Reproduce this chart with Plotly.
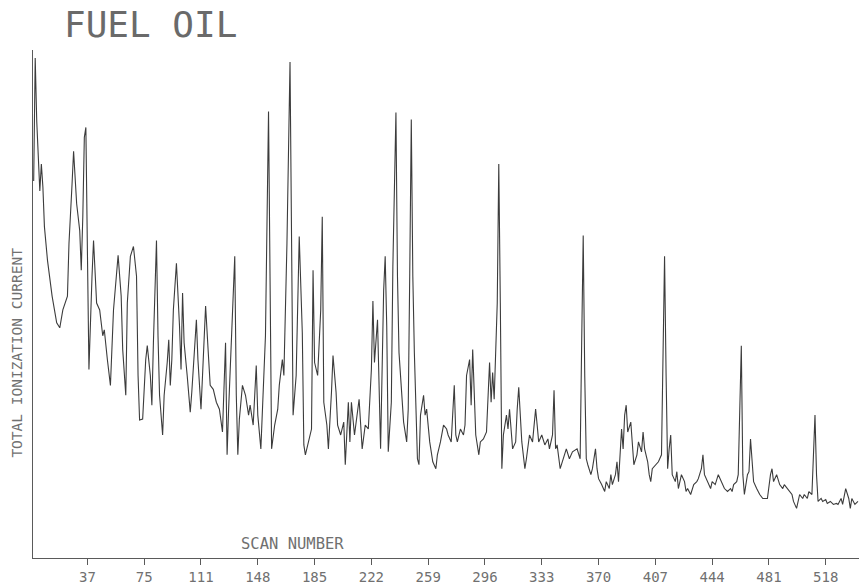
import plotly.graph_objects as go

# Text drawn on the chart
TITLE = "FUEL OIL"
X_LABEL = "SCAN NUMBER"
Y_LABEL = "TOTAL IONIZATION CURRENT"

# Scan-number axis ticks
TICK_SCANS = [37, 74, 111, 148, 185, 222, 259, 296, 333, 370, 407, 444, 481, 518]
TICK_LABELS = ["37", "75", "111", "148", "185", "222", "259", "296",
               "333", "370", "407", "444", "481", "518"]

# Total ion chromatogram: scan number and relative ion current
SCAN = [
    2, 3, 4, 5, 6, 7, 8, 9, 11, 14,
    17, 19, 21, 24, 25, 27, 28, 30, 32, 33,
    34, 35, 36, 37, 38, 40, 41, 43, 45, 47,
    48, 50, 52, 54, 56, 57, 59, 60, 62, 63,
    65, 67, 69, 70, 71, 73, 75, 76, 78, 79,
    80, 82, 83, 84, 86, 87, 89, 90, 91, 92,
    93, 95, 97, 98, 99, 100, 102, 104, 105, 106,
    108, 109, 111, 112, 114, 116, 117, 119, 121, 123,
    125, 127, 128, 129, 131, 133, 134, 135, 136, 138,
    140, 142, 143, 145, 147, 148, 150, 151, 153, 155,
    156, 157, 159, 161, 162, 164, 165, 167, 169, 170,
    171, 173, 174, 175, 177, 178, 179, 181, 183, 184,
    185, 187, 189, 190, 191, 193, 194, 196, 197, 199,
    200, 202, 204, 205, 207, 208, 209, 211, 213, 214,
    216, 218, 220, 222, 223, 224, 226, 227, 228, 230,
    231, 232, 233, 235, 236, 238, 239, 240, 242, 243,
    245, 246, 247, 248, 249, 250, 252, 253, 254, 256,
    257, 258, 260, 262, 264, 265, 267, 269, 271, 272,
    274, 275, 276, 277, 278, 280, 282, 283, 284, 286,
    287, 288, 289, 290, 292, 293, 295, 297, 299, 300,
    301, 302, 304, 305, 306, 307, 308, 310, 311, 312,
    314, 316, 317, 318, 320, 322, 323, 325, 327, 329,
    330, 331, 333, 335, 337, 338, 340, 341, 342, 343,
    345, 347, 349, 351, 353, 356, 357, 358, 359, 360,
    361, 362, 363, 365, 366, 368, 369, 370, 372, 374,
    375, 377, 378, 379, 381, 382, 383, 384, 385, 386,
    387, 388, 389, 391, 392, 393, 395, 396, 398, 399,
    400, 402, 403, 404, 405, 407, 409, 411, 412, 413,
    414, 415, 416, 417, 418, 420, 421, 422, 424, 426,
    427, 428, 430, 432, 434, 435, 437, 438, 439, 441,
    443, 444, 446, 448, 449, 451, 452, 454, 456, 457,
    458, 460, 461, 462, 463, 464, 465, 467, 468, 469,
    470, 471, 473, 475, 477, 480, 482, 483, 484, 486,
    488, 490, 491, 493, 494, 496, 497, 499, 501, 503,
    504, 506, 507, 509, 510, 511, 512, 513, 515, 516,
    518, 519, 521, 523, 525, 526, 528, 529, 531, 533,
    534, 535, 537, 539,
]
TIC = [
    380, 504, 440, 400, 370, 397, 374, 334, 300, 264,
    237, 232, 250, 264, 317, 377, 410, 357, 330, 290,
    344, 424, 434, 310, 190, 284, 320, 257, 250, 224,
    230, 200, 174, 250, 284, 305, 264, 210, 164, 257,
    304, 314, 284, 184, 139, 140, 200, 214, 184, 154,
    217, 320, 224, 164, 124, 164, 197, 220, 174, 200,
    250, 297, 234, 190, 267, 217, 184, 147, 167, 190,
    240, 200, 150, 184, 254, 200, 174, 170, 157, 150,
    127, 217, 104, 150, 227, 304, 164, 104, 140, 174,
    164, 144, 154, 134, 194, 144, 110, 154, 224, 450,
    234, 110, 134, 150, 174, 200, 184, 317, 500, 327,
    144, 184, 244, 324, 227, 114, 104, 117, 130, 290,
    197, 184, 250, 344, 157, 134, 110, 167, 204, 167,
    134, 124, 137, 94, 157, 117, 157, 124, 150, 160,
    110, 134, 130, 190, 259, 197, 240, 184, 110, 270,
    304, 234, 107, 157, 294, 449, 284, 207, 154, 137,
    117, 150, 287, 442, 284, 207, 100, 94, 144, 164,
    144, 150, 117, 97, 90, 104, 117, 134, 130, 124,
    117, 144, 174, 124, 117, 130, 124, 134, 184, 200,
    154, 210, 157, 124, 104, 117, 120, 127, 197, 157,
    187, 160, 257, 397, 257, 90, 124, 144, 130, 150,
    110, 117, 150, 172, 117, 90, 100, 124, 117, 150,
    134, 117, 124, 114, 120, 110, 124, 169, 110, 114,
    90, 100, 110, 100, 107, 110, 104, 100, 217, 325,
    184, 100, 94, 84, 90, 110, 90, 80, 74, 67,
    77, 70, 84, 74, 84, 97, 77, 100, 130, 110,
    144, 154, 127, 137, 110, 94, 104, 117, 107, 127,
    110, 97, 84, 77, 90, 94, 97, 104, 200, 304,
    184, 90, 110, 124, 84, 77, 87, 70, 84, 77,
    67, 70, 64, 74, 77, 80, 90, 104, 84, 77,
    70, 77, 74, 84, 80, 74, 70, 67, 70, 67,
    74, 77, 84, 150, 214, 84, 64, 84, 87, 120,
    97, 77, 70, 64, 60, 60, 84, 90, 77, 84,
    74, 70, 74, 70, 67, 64, 57, 50, 64, 60,
    64, 60, 67, 64, 104, 144, 84, 57, 60, 57,
    59, 55, 57, 54, 55, 54, 60, 54, 70, 60,
    50, 60, 54, 57,
]

W, H = 859, 585
M_LEFT, M_RIGHT, M_TOP, M_BOTTOM = 33, 0, 50, 23
PLOT_W = W - M_LEFT - M_RIGHT
PLOT_H = H - M_TOP - M_BOTTOM

MONO = "DejaVu Sans Mono, Liberation Mono, monospace"
INK = "#3c3c3c"
AXIS_INK = "#5a5a5a"
TEXT_INK = "#707070"

fig = go.Figure(
    go.Scatter(
        x=SCAN,
        y=TIC,
        mode="lines",
        line=dict(color=INK, width=1.1),
        hoverinfo="skip",
        showlegend=False,
    )
)

fig.update_layout(
    width=W,
    height=H,
    margin=dict(l=M_LEFT, r=M_RIGHT, t=M_TOP, b=M_BOTTOM, pad=0),
    paper_bgcolor="white",
    plot_bgcolor="white",
    xaxis=dict(
        range=[1.56, 539.67],
        showgrid=False,
        zeroline=False,
        showline=True,
        linecolor=AXIS_INK,
        linewidth=1.2,
        ticks="outside",
        ticklen=6,
        tickwidth=1,
        tickcolor=AXIS_INK,
        tickvals=TICK_SCANS,
        ticktext=TICK_LABELS,
        tickfont=dict(family=MONO, size=14, color=TEXT_INK),
        fixedrange=True,
    ),
    yaxis=dict(
        range=[0, PLOT_H],
        showgrid=False,
        zeroline=False,
        showline=True,
        linecolor=AXIS_INK,
        linewidth=1.2,
        ticks="",
        showticklabels=False,
        fixedrange=True,
    ),
    annotations=[
        dict(
            text=TITLE,
            xref="paper", yref="paper",
            x=(62 - M_LEFT) / PLOT_W, y=(H - M_BOTTOM - 24) / PLOT_H,
            xanchor="left", yanchor="middle",
            showarrow=False,
            font=dict(family=MONO, size=36, color="#6a6a6a"),
        ),
        dict(
            text=Y_LABEL,
            xref="paper", yref="paper",
            x=(17 - M_LEFT) / PLOT_W, y=(H - M_BOTTOM - 355) / PLOT_H,
            xanchor="center", yanchor="middle",
            textangle=-90,
            showarrow=False,
            font=dict(family=MONO, size=14.5, color=TEXT_INK),
        ),
        dict(
            text=X_LABEL,
            xref="paper", yref="paper",
            x=(292 - M_LEFT) / PLOT_W, y=(H - M_BOTTOM - 548) / PLOT_H,
            xanchor="center", yanchor="middle",
            showarrow=False,
            font=dict(family=MONO, size=15.5, color=TEXT_INK),
        ),
    ],
)

fig.write_html("out.html", config={"displayModeBar": False})
